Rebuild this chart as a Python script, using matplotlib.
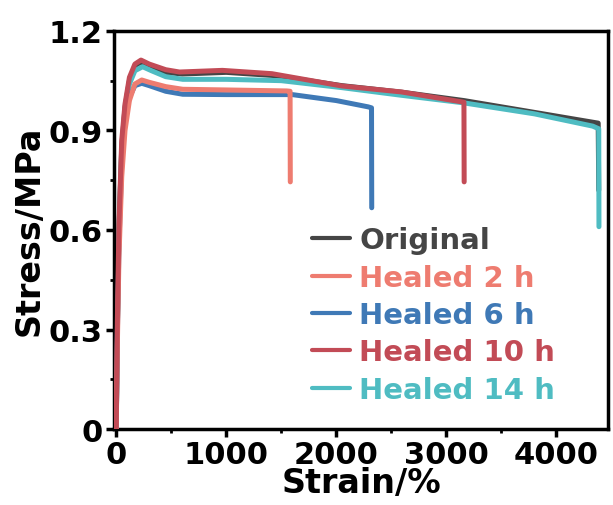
import numpy as np
import matplotlib.pyplot as plt
from matplotlib.ticker import MultipleLocator

# Stress-strain data (strain in %, stress in MPa)
strain_orig = [0, 10, 25, 50, 80, 120, 170, 220, 300, 450, 600, 1000, 1450, 2050, 2600, 3160, 3700, 4380, 4385]
stress_orig = [0, 0.30, 0.60, 0.85, 0.97, 1.05, 1.095, 1.105, 1.095, 1.075, 1.07, 1.075, 1.065, 1.035, 1.015, 0.99, 0.96, 0.922, 0.72]

strain_2h = [0, 10, 25, 50, 80, 120, 170, 232, 300, 450, 605, 1000, 1550, 1580, 1582]
stress_2h = [0, 0.25, 0.52, 0.76, 0.90, 0.99, 1.04, 1.052, 1.045, 1.032, 1.024, 1.022, 1.019, 1.018, 0.745]

strain_6h = [0, 10, 25, 50, 80, 120, 170, 232, 300, 450, 605, 1000, 1600, 2000, 2290, 2320, 2322]
stress_6h = [0, 0.28, 0.56, 0.80, 0.93, 1.00, 1.035, 1.042, 1.035, 1.018, 1.009, 1.008, 1.008, 0.99, 0.971, 0.968, 0.667]

strain_10h = [0, 10, 25, 50, 80, 120, 170, 225, 300, 450, 575, 965, 1415, 2050, 2590, 3160, 3162]
stress_10h = [0, 0.32, 0.62, 0.87, 0.98, 1.06, 1.10, 1.112, 1.10, 1.083, 1.076, 1.081, 1.071, 1.034, 1.016, 0.985, 0.745]

strain_14h = [0, 10, 25, 50, 80, 120, 170, 240, 320, 450, 605, 1000, 1500, 2050, 2590, 3160, 3800, 4330, 4385, 4387]
stress_14h = [0, 0.30, 0.60, 0.84, 0.96, 1.04, 1.08, 1.092, 1.08, 1.062, 1.054, 1.054, 1.05, 1.029, 1.006, 0.983, 0.95, 0.913, 0.905, 0.61]

labels = ['Original', 'Healed 2 h', 'Healed 6 h', 'Healed 10 h', 'Healed 14 h']
colors = ['#454545', '#EE7C70', '#3F79B6', '#C24B56', '#4FBCC2']

plt.rcParams['font.family'] = 'DejaVu Sans'
plt.rcParams['font.weight'] = 'bold'

fig = plt.figure(figsize=(6.13, 5.06), dpi=100)
ax = fig.add_axes([0.186, 0.150, 0.806, 0.787])

lw = 3.6
h_orig, = ax.plot(strain_orig, stress_orig, color=colors[0], lw=lw, zorder=1, solid_joinstyle='round', solid_capstyle='round')
h_14, = ax.plot(strain_14h, stress_14h, color=colors[4], lw=lw, zorder=2, solid_joinstyle='round', solid_capstyle='round')
h_6, = ax.plot(strain_6h, stress_6h, color=colors[2], lw=lw, zorder=3, solid_joinstyle='round', solid_capstyle='round')
h_2, = ax.plot(strain_2h, stress_2h, color=colors[1], lw=lw, zorder=4, solid_joinstyle='round', solid_capstyle='round')
h_10, = ax.plot(strain_10h, stress_10h, color=colors[3], lw=lw, zorder=5, solid_joinstyle='round', solid_capstyle='round')

ax.set_xlim(-20, 4470)
ax.set_ylim(0, 1.2)
ax.xaxis.set_major_locator(MultipleLocator(1000))
ax.xaxis.set_minor_locator(MultipleLocator(500))
ax.yaxis.set_minor_locator(MultipleLocator(0.15))
ax.set_yticks([0, 0.3, 0.6, 0.9, 1.2])
ax.set_yticklabels(['0', '0.3', '0.6', '0.9', '1.2'])

for s in ax.spines.values():
    s.set_linewidth(2.5)
ax.tick_params(which='major', direction='out', length=6, width=2.5, labelsize=22, pad=2)
ax.tick_params(which='minor', direction='out', length=3, width=2)

ax.set_xlabel('Strain/%', fontsize=24, fontweight='bold', labelpad=-2)
ax.set_ylabel('Stress/MPa', fontsize=24, fontweight='bold', labelpad=2)

leg = ax.legend([h_orig, h_2, h_6, h_10, h_14], labels, frameon=False, fontsize=21,
                loc='lower left', bbox_to_anchor=(0.372, 0.027), borderpad=0,
                handlelength=1.3, handletextpad=0.3, labelspacing=0.32,
                labelcolor='linecolor')
for line in leg.get_lines():
    line.set_linewidth(3)

fig.savefig('out.png', dpi=100)
